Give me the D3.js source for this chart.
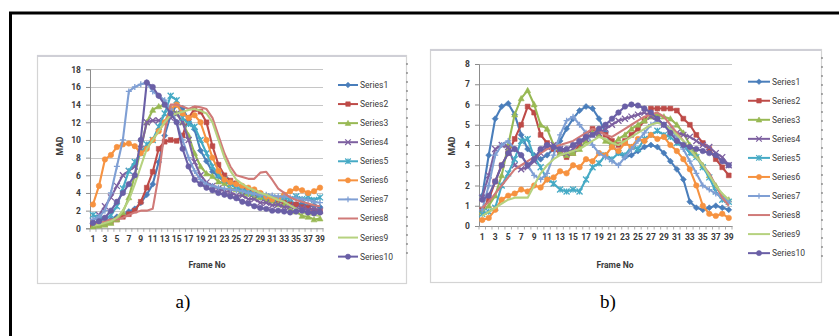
<!DOCTYPE html>
<html>
<head>
<meta charset="utf-8">
<script src="https://cdn.jsdelivr.net/npm/d3@7/dist/d3.min.js"></script>
<style>
  html, body { margin: 0; padding: 0; background: #fff; }
  svg { display: block; }
  .tick-label { font-family: "Liberation Sans Narrow", "Arial Narrow", "Roboto", sans-serif; fill: #3a3a3a; }
  .axis-title { font-family: "Liberation Sans Narrow", "Arial Narrow", "Roboto", sans-serif; font-weight: bold; fill: #3a3a3a; }
  .legend-label { font-family: "Liberation Sans Narrow", "Arial Narrow", "Roboto", sans-serif; fill: #3a3a3a; }
  .caption { font-family: "Liberation Serif", "Times New Roman", serif; fill: #000; }
</style>
</head>
<body>
<svg id="chart" width="839" height="336"></svg>
<script>
// Frame numbers on the category axis
const frames = [1,2,3,4,5,6,7,8,9,10,11,12,13,14,15,16,17,18,19,20,
                21,22,23,24,25,26,27,28,29,30,31,32,33,34,35,36,37,38,39];
const seriesNames = ["Series1","Series2","Series3","Series4","Series5",
                     "Series6","Series7","Series8","Series9","Series10"];

// MAD per frame, panel a)
const madA_s1  = [0.5,0.6,0.8,1.0,1.3,1.5,1.9,2.2,2.9,3.8,5.0,7.5,10.5,12.8,14.0,13.6,12.3,11.2,8.8,7.6,6.4,5.9,5.2,5.1,4.5,4.4,3.9,3.9,3.5,3.5,3.2,3.3,2.9,3.1,2.7,2.8,2.5,2.6,2.4];
const madA_s2  = [0.3,0.4,0.5,0.7,1.0,1.3,1.6,2.0,3.0,4.6,6.4,9.0,9.8,10.0,9.9,10.5,12.5,13.5,13.2,12.0,9.3,7.2,6.0,5.4,5.1,4.6,4.3,4.0,3.9,3.5,3.4,3.1,3.0,2.8,2.7,2.4,2.3,2.0,1.9];
const madA_s3  = [0.2,0.3,0.4,0.6,1.0,1.8,3.5,6.0,9.0,12.0,13.4,13.8,14.0,13.6,13.0,12.0,10.5,8.5,7.0,6.2,5.9,5.3,5.1,4.5,4.4,3.9,3.9,3.5,3.5,3.1,3.1,2.7,2.6,2.1,1.9,1.4,1.3,1.0,1.1];
const madA_s4  = [0.8,1.5,2.5,3.5,4.8,6.0,6.5,7.0,9.0,12.0,12.2,12.2,12.0,12.5,13.0,12.0,10.0,7.5,6.0,5.2,4.8,4.5,4.2,4.1,3.7,3.7,3.3,3.3,2.9,2.9,2.6,2.7,2.4,2.5,2.2,2.3,2.1,2.2,2.0];
const madA_s5  = [1.5,1.2,1.0,1.5,2.5,4.5,6.5,7.5,8.5,9.5,10.0,11.5,13.0,15.0,14.5,12.5,11.8,11.5,10.0,8.5,7.0,6.0,5.5,5.0,4.6,4.4,4.2,4.0,3.8,3.6,3.5,3.4,3.5,3.3,3.6,3.3,3.5,3.2,3.5];
const madA_s6  = [2.7,4.8,7.8,8.3,9.2,9.5,9.6,9.3,8.5,9.0,10.0,11.0,12.0,13.5,14.0,13.0,12.5,12.8,12.0,10.0,8.0,6.5,5.5,5.2,5.0,4.8,4.6,4.4,4.0,3.6,3.3,3.4,3.8,4.2,4.5,4.3,4.0,4.2,4.6];
const madA_s7  = [1.0,1.3,2.0,4.0,7.0,10.0,15.5,16.0,16.3,16.5,15.5,15.0,14.5,13.5,12.0,10.0,8.0,6.5,5.5,5.0,4.8,4.6,4.5,4.4,4.3,4.2,4.0,3.9,3.8,3.8,3.7,3.6,3.6,3.5,3.4,3.3,3.2,3.0,2.9];
const madA_s8  = [0.5,0.6,0.8,1.0,1.0,1.2,1.5,1.8,2.0,2.0,2.2,6.0,11.0,14.0,14.0,13.8,13.5,13.8,13.7,13.5,12.5,10.5,8.5,7.0,6.0,5.8,5.6,5.6,6.3,6.4,5.5,4.5,4.0,3.5,3.2,3.0,2.8,2.6,2.5];
const madA_s9  = [0.3,0.4,0.6,0.8,1.2,2.0,3.2,5.0,7.0,9.0,10.0,11.0,12.0,12.8,13.0,13.2,13.4,13.5,13.3,13.0,12.0,10.0,8.0,6.5,5.5,5.0,4.6,4.3,4.0,3.8,3.5,3.2,3.0,2.6,2.2,1.8,1.6,1.5,1.4];
const madA_s10 = [0.6,0.8,1.2,2.0,3.0,4.0,5.0,6.0,10.0,16.5,16.0,15.0,14.0,13.0,12.0,9.0,7.0,5.5,5.0,4.6,4.3,4.0,3.8,3.6,3.4,3.0,2.8,2.5,2.3,2.2,2.0,2.0,1.9,1.8,1.9,2.0,1.8,1.7,1.8];

// MAD per frame, panel b)
const madB_s1  = [1.5,3.5,5.3,5.9,6.05,5.5,4.5,3.8,3.5,3.3,3.5,3.8,4.2,4.8,5.3,5.7,5.9,5.8,5.3,4.6,4.0,3.6,3.4,3.5,3.7,3.9,4.0,3.9,3.6,3.2,2.8,2.3,1.2,0.9,0.8,0.9,1.0,0.9,0.8];
const madB_s2  = [0.8,1.3,2.2,3.0,3.6,4.3,5.0,5.9,5.6,4.5,4.1,3.8,3.6,3.4,3.6,4.0,4.5,4.8,4.7,4.5,4.2,4.0,4.2,4.5,4.8,5.2,5.8,5.8,5.8,5.8,5.7,5.3,5.0,4.5,4.1,3.8,3.3,2.9,2.5];
const madB_s3  = [0.7,1.0,1.5,2.5,4.0,5.5,6.3,6.7,6.0,5.0,4.8,4.0,3.6,3.5,3.6,3.8,4.2,4.6,4.5,4.2,4.0,4.3,4.5,4.8,5.0,5.2,5.4,5.5,5.4,5.3,5.0,4.6,4.0,3.5,3.0,2.5,2.0,1.5,1.3];
const madB_s4  = [1.4,2.5,3.8,4.0,3.9,3.0,2.8,2.9,3.2,3.6,3.9,4.0,3.8,3.6,3.8,4.1,4.3,4.5,4.6,4.8,5.0,5.2,5.3,5.4,5.5,5.6,5.4,5.2,5.0,4.8,4.6,4.5,4.4,4.2,4.0,3.9,3.6,3.4,3.0];
const madB_s5  = [0.6,0.7,0.9,2.0,2.6,3.3,4.2,4.3,3.4,2.9,2.3,2.1,1.8,1.7,1.8,1.7,2.3,2.9,3.1,3.5,3.3,3.6,3.5,3.9,3.8,4.3,4.5,4.7,4.5,4.4,4.1,4.0,3.6,3.4,2.9,2.4,1.7,1.3,1.2];
const madB_s6  = [0.3,0.4,0.8,1.3,1.5,1.6,1.8,1.7,2.0,1.9,2.3,2.4,2.7,2.6,3.0,2.9,3.3,3.2,3.6,3.5,3.9,3.7,4.1,3.9,4.3,4.2,4.5,4.3,4.4,4.0,3.7,3.3,2.8,2.0,1.0,0.6,0.5,0.6,0.4];
const madB_s7  = [0.8,2.0,3.5,4.0,4.2,3.8,3.5,3.0,2.5,2.3,2.6,3.5,4.5,5.2,5.4,5.0,4.6,4.0,3.6,3.4,3.2,3.0,3.4,3.8,4.2,4.6,5.0,5.2,5.0,4.8,4.4,3.8,3.2,2.6,2.0,1.8,1.6,1.4,1.2];
const madB_s8  = [0.9,1.2,1.6,2.0,2.4,2.8,3.0,3.2,3.4,3.6,3.8,3.9,4.0,4.1,4.2,4.4,4.6,4.8,4.7,4.5,4.4,4.6,4.8,5.0,5.2,5.4,5.5,5.6,5.4,5.0,4.6,4.2,3.8,3.4,3.0,2.6,2.0,1.4,1.0];
const madB_s9  = [0.5,0.7,0.9,1.1,1.3,1.4,1.4,1.4,2.0,2.6,3.0,3.3,3.5,3.6,3.7,3.8,4.0,4.2,4.4,4.3,4.1,4.0,4.2,4.4,4.6,4.8,5.0,5.1,5.0,4.8,4.5,4.2,3.8,3.4,3.0,2.5,2.0,1.6,1.3];
const madB_s10 = [1.3,1.5,2.2,3.0,3.6,3.8,3.5,3.0,3.3,3.8,4.0,3.9,3.8,3.8,4.0,4.2,4.4,4.5,4.8,5.0,5.3,5.6,5.9,6.0,5.95,5.8,5.6,5.3,5.0,4.6,4.2,4.0,3.9,3.8,3.7,3.6,3.5,3.2,3.0];

const madTicksA = [0,2,4,6,8,10,12,14,16,18];
const madTicksB = [0,1,2,3,4,5,6,7,8];
const frameTickLabels = [1,3,5,7,9,11,13,15,17,19,21,23,25,27,29,31,33,35,37,39];

const seriesA = [madA_s1,madA_s2,madA_s3,madA_s4,madA_s5,madA_s6,madA_s7,madA_s8,madA_s9,madA_s10];
const seriesB = [madB_s1,madB_s2,madB_s3,madB_s4,madB_s5,madB_s6,madB_s7,madB_s8,madB_s9,madB_s10];

// Office-style series palette and marker cycle
const colors = ["#4a7ebb","#be4b48","#98b954","#7d60a0","#46aac5",
                "#f69240","#7f9fd4","#d07a78","#b6d27f","#6a5fa6"];
const markers = ["diamond","square","triangle","x","star","circle","plus","none","none","circle"];

function markerPath(type, s) {
  switch (type) {
    case "diamond": return `M0,${-s}L${s},0L0,${s}L${-s},0Z`;
    case "square": return `M${-s*0.8},${-s*0.8}h${s*1.6}v${s*1.6}h${-s*1.6}Z`;
    case "triangle": return `M0,${-s}L${s},${s*0.8}L${-s},${s*0.8}Z`;
    case "circle": return d3.symbol(d3.symbolCircle, s*s*2.6)();
    case "x": return `M${-s},${-s}L${s},${s}M${-s},${s}L${s},${-s}`;
    case "plus": return `M${-s},0L${s},0M0,${-s}L0,${s}`;
    case "star": return `M${-s},${-s}L${s},${s}M${-s},${s}L${s},${-s}M0,${-s}L0,${s}`;
    default: return null;
  }
}
const filledMarkers = new Set(["diamond","square","triangle","circle"]);

const svg = d3.select("#chart");

// Outer table cell border
svg.append("path")
  .attr("d", "M10.5,336V13H839")
  .attr("fill", "none")
  .attr("stroke", "#000")
  .attr("stroke-width", 3);

function drawPanel(cfg) {
  const g = svg.append("g");

  // chart area frame
  g.append("rect")
    .attr("x", cfg.frame[0] + 0.5).attr("y", cfg.frame[1] + 0.5)
    .attr("width", cfg.frame[2] - cfg.frame[0]).attr("height", cfg.frame[3] - cfg.frame[1])
    .attr("fill", "#fff").attr("stroke", "#d4d4d4").attr("stroke-width", 1.2);
  g.append("line")
    .attr("x1", cfg.frame[0]).attr("x2", cfg.frame[2])
    .attr("y1", cfg.frame[1] + 1).attr("y2", cfg.frame[1] + 1)
    .attr("stroke", "#cfcfd6").attr("stroke-width", 2);
  g.append("line")
    .attr("x1", cfg.frame[2] + 1).attr("x2", cfg.frame[2] + 1)
    .attr("y1", cfg.frame[1] + 8).attr("y2", cfg.frame[3] - 25)
    .attr("stroke", "#7a7a7a").attr("stroke-width", 1.2)
    .attr("stroke-dasharray", "2,7");

  const x = d3.scaleBand().domain(frames).range([cfg.plot[0], cfg.plot[2]]).padding(0);
  const y = d3.scaleLinear().domain([0, cfg.yMax]).range([cfg.plot[3], cfg.plot[1]]);
  const cx = f => x(f) + x.bandwidth() / 2;

  // gridlines
  g.append("g").selectAll("line").data(cfg.yTicks.filter(t => t > 0)).join("line")
    .attr("x1", cfg.plot[0]).attr("x2", cfg.plot[2])
    .attr("y1", d => Math.round(y(d)) + 0.5).attr("y2", d => Math.round(y(d)) + 0.5)
    .attr("stroke", "#c6c6c6").attr("stroke-width", 1);

  // value axis
  const yAxis = g.append("g")
    .attr("transform", `translate(${cfg.plot[0]},0)`)
    .call(d3.axisLeft(y).tickValues(cfg.yTicks).tickSize(4).tickPadding(5));
  yAxis.select(".domain").attr("stroke", "#8c8c8c");
  yAxis.selectAll(".tick line").attr("stroke", "#8c8c8c");
  yAxis.selectAll(".tick text").attr("class", "tick-label").attr("font-size", 8.5).attr("font-weight", "bold");

  // category axis
  const xAxis = g.append("g")
    .attr("transform", `translate(0,${cfg.plot[3]})`)
    .call(d3.axisBottom(x).tickValues(frameTickLabels).tickSize(0).tickPadding(8));
  xAxis.select(".domain").attr("stroke", "#8c8c8c");
  xAxis.selectAll(".tick text").attr("class", "tick-label").attr("font-size", 8.5).attr("font-weight", "bold");
  g.append("g").selectAll("line").data(frames.concat([40])).join("line")
    .attr("x1", d => (d <= 39 ? x(d) : cfg.plot[2]))
    .attr("x2", d => (d <= 39 ? x(d) : cfg.plot[2]))
    .attr("y1", cfg.plot[3]).attr("y2", cfg.plot[3] + 3.5)
    .attr("stroke", "#9a9a9a").attr("stroke-width", 0.8);

  // axis titles
  g.append("text").attr("class", "axis-title")
    .attr("transform", `translate(${cfg.yTitle[0]},${cfg.yTitle[1]}) rotate(-90)`)
    .attr("text-anchor", "middle").attr("dominant-baseline", "central")
    .attr("font-size", 8.5).text("MAD");
  g.append("text").attr("class", "axis-title")
    .attr("x", cfg.xTitle[0]).attr("y", cfg.xTitle[1])
    .attr("text-anchor", "middle").attr("dominant-baseline", "central")
    .attr("font-size", 8.5).text("Frame No");

  // series lines and markers
  const line = d3.line().x((d, i) => cx(frames[i])).y(d => y(d));
  cfg.series.forEach((vals, si) => {
    const sg = g.append("g");
    sg.append("path").datum(vals)
      .attr("d", line).attr("fill", "none")
      .attr("stroke", colors[si]).attr("stroke-width", 2.1)
      .attr("stroke-linejoin", "round");
    const mp = markerPath(markers[si], 3);
    if (mp) {
      const filled = filledMarkers.has(markers[si]);
      sg.selectAll("path.m").data(vals).join("path").attr("class", "m")
        .attr("d", mp)
        .attr("transform", (d, i) => `translate(${cx(frames[i])},${y(d)})`)
        .attr("fill", filled ? colors[si] : "none")
        .attr("stroke", colors[si]).attr("stroke-width", filled ? 0.6 : 1.3);
    }
  });

  // legend
  const lg = g.append("g");
  seriesNames.forEach((name, si) => {
    const ly = cfg.legend[1] + si * cfg.legend[3];
    lg.append("line")
      .attr("x1", cfg.legend[0]).attr("x2", cfg.legend[0] + cfg.legend[2])
      .attr("y1", ly).attr("y2", ly)
      .attr("stroke", colors[si]).attr("stroke-width", 2);
    const mp = markerPath(markers[si], 2.8);
    if (mp) {
      const filled = filledMarkers.has(markers[si]);
      lg.append("path").attr("d", mp)
        .attr("transform", `translate(${cfg.legend[0] + cfg.legend[2] / 2},${ly})`)
        .attr("fill", filled ? colors[si] : "none")
        .attr("stroke", colors[si]).attr("stroke-width", filled ? 0.6 : 1.2);
    }
    lg.append("text").attr("class", "legend-label")
      .attr("x", cfg.legend[0] + cfg.legend[2] + 2).attr("y", ly)
      .attr("dominant-baseline", "central").attr("font-size", 8.5)
      .text(name);
  });

  // panel caption
  svg.append("text").attr("class", "caption")
    .attr("x", cfg.caption[0]).attr("y", cfg.caption[1])
    .attr("text-anchor", "middle").attr("font-size", 19)
    .text(cfg.label);
}

drawPanel({
  label: "a)", series: seriesA, yMax: 18, yTicks: madTicksA,
  frame: [37, 55, 406, 283],
  plot: [90, 69.3, 323, 228.3],
  yTitle: [60, 146], xTitle: [207, 265],
  legend: [338, 85, 20, 19.07],
  caption: [183, 308]
});

drawPanel({
  label: "b)", series: seriesB, yMax: 8, yTicks: madTicksB,
  frame: [430, 49, 821, 282],
  plot: [479, 64, 732, 226],
  yTitle: [452, 146], xTitle: [615, 265],
  legend: [748, 81.7, 22, 19.05],
  caption: [608, 308]
});
</script>
</body>
</html>
